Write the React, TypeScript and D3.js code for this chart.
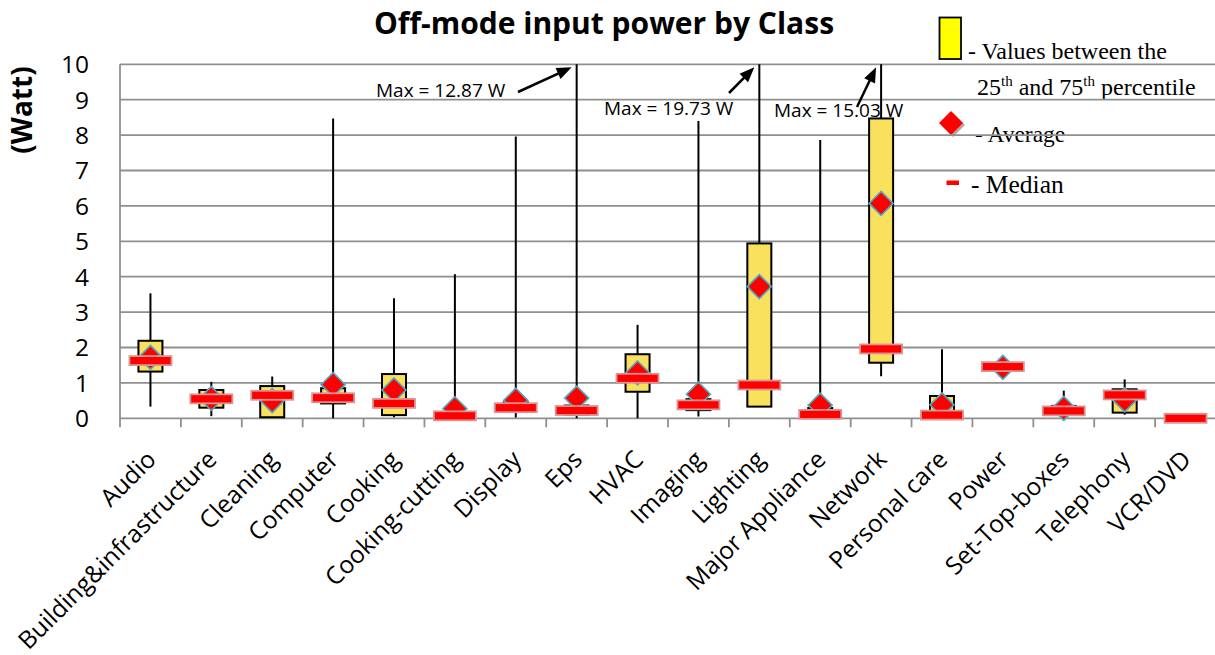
import React from "react";
import * as d3 from "d3";

const categories = [
  "Audio", "Building&infrastructure", "Cleaning", "Computer", "Cooking",
  "Cooking-cutting", "Display", "Eps", "HVAC", "Imaging", "Lighting",
  "Major Appliance", "Network", "Personal care", "Power", "Set-Top-boxes",
  "Telephony", "VCR/DVD",
];
const mins = [0.33, 0.06, 0.02, 0, 0.03, 0, 0.02, 0, 0, 0.05, 0.32, 0.02, 1.19, 0.02, 1.4, 0.1, 0.1, 0];
const q1s = [1.32, 0.3, 0.03, 0.42, 0.09, 0.03, 0.18, 0.1, 0.75, 0.23, 0.33, 0.08, 1.57, 0.05, 1.42, 0.15, 0.16, 0];
const medians = [1.63, 0.55, 0.65, 0.58, 0.42, 0.07, 0.3, 0.22, 1.13, 0.38, 0.94, 0.11, 1.96, 0.09, 1.46, 0.21, 0.66, 0];
const q3s = [2.19, 0.8, 0.91, 0.85, 1.25, 0.12, 0.45, 0.36, 1.81, 0.54, 4.94, 0.29, 8.47, 0.63, 1.5, 0.35, 0.82, 0];
const maxs = [3.53, 1.03, 1.18, 8.47, 3.39, 4.07, 7.96, 12.87, 2.64, 8.4, 19.73, 7.86, 15.03, 1.95, 1.5, 0.78, 1.1, 0];
const means: (number | null)[] = [1.72, 0.56, 0.5, 0.95, 0.8, 0.27, 0.51, 0.57, 1.28, 0.68, 3.72, 0.37, 6.07, 0.38, 1.44, 0.28, 0.52, null];
const yTicks = [0, 1, 2, 3, 4, 5, 6, 7, 8, 9, 10];
const maxNotes = [
  { label: "Max = 12.87 W", cat: "Eps", tx: 376, ty: 97, ax: 518, ay: 92 },
  { label: "Max = 19.73 W", cat: "Lighting", tx: 604, ty: 115, ax: 729, ay: 93 },
  { label: "Max = 15.03 W", cat: "Network", tx: 774, ty: 117, ax: 857, ay: 107 },
];

const W = 1215, H = 655;
const sans = "'Open Sans', sans-serif";
const serif = "'Liberation Serif', 'Times New Roman', serif";

export default function App() {
  const y = d3.scaleLinear().domain([0, 10]).range([418.3, 64.3]);
  const x = d3.scaleBand<string>().domain(categories).range([120, 1216]);
  const bw = x.bandwidth();
  const cy = (v: number) => y(Math.min(v, 10));
  const gridColor = "#8f8f8f";
  const boxW = 24, medW = 42, medH = 9, dia = 12;

  const arrowHead = (x1: number, y1: number, x2: number, y2: number) => {
    const ang = Math.atan2(y2 - y1, x2 - x1);
    const len = 15, half = 6;
    const bx = x2 - len * Math.cos(ang), by = y2 - len * Math.sin(ang);
    const px = -Math.sin(ang) * half, py = Math.cos(ang) * half;
    return `M${x2},${y2}L${bx + px},${by + py}L${bx - px},${by - py}Z`;
  };

  return (
    <svg width={W} height={H} style={{ position: "absolute", left: 0, top: 0, background: "#fff" }}>
      <defs>
        <clipPath id="plotClip">
          <rect x={0} y={0} width={W} height={421} />
        </clipPath>
      </defs>
      {/* title */}
      <text x={604} y={34} textAnchor="middle" fontFamily={sans} fontWeight="bold" fontSize={30} fill="#000">
        Off-mode input power by Class
      </text>
      {/* y axis title */}
      <text transform="translate(32,110) rotate(-90)" textAnchor="middle" fontFamily={sans} fontWeight="bold" fontSize={28} fill="#000">
        (Watt)
      </text>

      {/* legend */}
      <rect x={939.5} y={17.5} width={21.5} height={41.5} fill="#FFFF00" stroke="#000" strokeWidth={1.8} />
      <text x={968} y={59} fontFamily={serif} fontSize={24} fill="#000">- Values between the</text>
      <text x={977} y={95} fontFamily={serif} fontSize={24} fill="#000">
        25<tspan fontSize={15} dy={-9}>th</tspan><tspan dy={9}> and 75</tspan><tspan fontSize={15} dy={-9}>th</tspan><tspan dy={9}> percentile</tspan>
      </text>
      <path d={`M${953},${113}L${965},${125}L${953},${137}L${941},${125}Z`} fill="#b08a8a" opacity={0.8} />
      <path d={`M${951},${111}L${963},${123}L${951},${135}L${939},${123}Z`} fill="#FF0000" />
      <text x={975} y={142} fontFamily={serif} fontSize={23.5} fill="#000">- Average</text>
      <rect x={946.5} y={180.5} width={12.5} height={4.5} fill="#FF0000" />
      <text x={971} y={193} fontFamily={serif} fontSize={25.5} fill="#000">- Median</text>

      {/* gridlines */}
      {yTicks.map((t) => (
        <line key={"g" + t} x1={120} x2={W} y1={y(t)} y2={y(t)} stroke={gridColor} strokeWidth={1.8} />
      ))}
      {/* y axis line */}
      <line x1={120} x2={120} y1={y(10)} y2={y(0) + 9} stroke={gridColor} strokeWidth={1.8} />
      {/* x ticks */}
      {categories.map((c) => (
        <line key={"t" + c} x1={(x(c) as number) + bw} x2={(x(c) as number) + bw} y1={y(0)} y2={y(0) + 9} stroke={gridColor} strokeWidth={1.8} />
      ))}
      {/* y tick labels */}
      {yTicks.map((t) => (
        <text key={"yl" + t} x={89} y={y(t)} dy="0.36em" textAnchor="end" fontFamily={sans} fontSize={24.5} fill="#000">
          {t}
        </text>
      ))}
      {/* x labels */}
      {categories.map((c) => {
        const cx = (x(c) as number) + bw / 2;
        return (
          <text key={"xl" + c} transform={`translate(${cx + 7},${461}) rotate(-45)`} textAnchor="end" fontFamily={sans} fontSize={24.5} fill="#000">
            {c}
          </text>
        );
      })}

      {/* whiskers */}
      {categories.map((c, i) => {
        const cx = (x(c) as number) + bw / 2;
        if (maxs[i] === mins[i]) return null;
        return <line key={"w" + c} x1={cx} x2={cx} y1={cy(mins[i])} y2={cy(maxs[i])} stroke="#000" strokeWidth={2} />;
      })}
      {/* boxes */}
      {categories.map((c, i) => {
        const cx = (x(c) as number) + bw / 2;
        if (q3s[i] === q1s[i]) return null;
        return (
          <rect key={"b" + c} x={cx - boxW / 2} y={cy(q3s[i])} width={boxW} height={cy(q1s[i]) - cy(q3s[i])} fill="#F9E15D" stroke="#000" strokeWidth={2} />
        );
      })}
      {/* means */}
      <g clipPath="url(#plotClip)">
        {categories.map((c, i) => {
          const m = means[i];
          if (m === null) return null;
          const cx = (x(c) as number) + bw / 2;
          const my = cy(m);
          return (
            <path key={"m" + c} d={`M${cx},${my - dia}L${cx + dia},${my}L${cx},${my + dia}L${cx - dia},${my}Z`} fill="#FF0000" stroke="#4BACC6" strokeWidth={1.6} />
          );
        })}
      </g>
      {/* medians */}
      {categories.map((c, i) => {
        const cx = (x(c) as number) + bw / 2;
        const my = cy(medians[i]);
        return (
          <rect key={"md" + c} x={cx - medW / 2} y={my - medH / 2} width={medW} height={medH} fill="#FF0000" stroke="#D99594" strokeWidth={1.8} />
        );
      })}

      {/* max annotations */}
      {maxNotes.map((n) => {
        const cx = (x(n.cat) as number) + bw / 2;
        const tipX = cx - 5, tipY = y(10) + 3;
        return (
          <g key={n.label}>
            <text x={n.tx} y={n.ty} fontFamily={sans} fontSize={19} fill="#000">{n.label}</text>
            <line x1={n.ax} y1={n.ay} x2={tipX - (tipX - n.ax) * 0.12} y2={tipY - (tipY - n.ay) * 0.12} stroke="#000" strokeWidth={2.5} />
            <path d={arrowHead(n.ax, n.ay, tipX, tipY)} fill="#000" />
          </g>
        );
      })}
    </svg>
  );
}
